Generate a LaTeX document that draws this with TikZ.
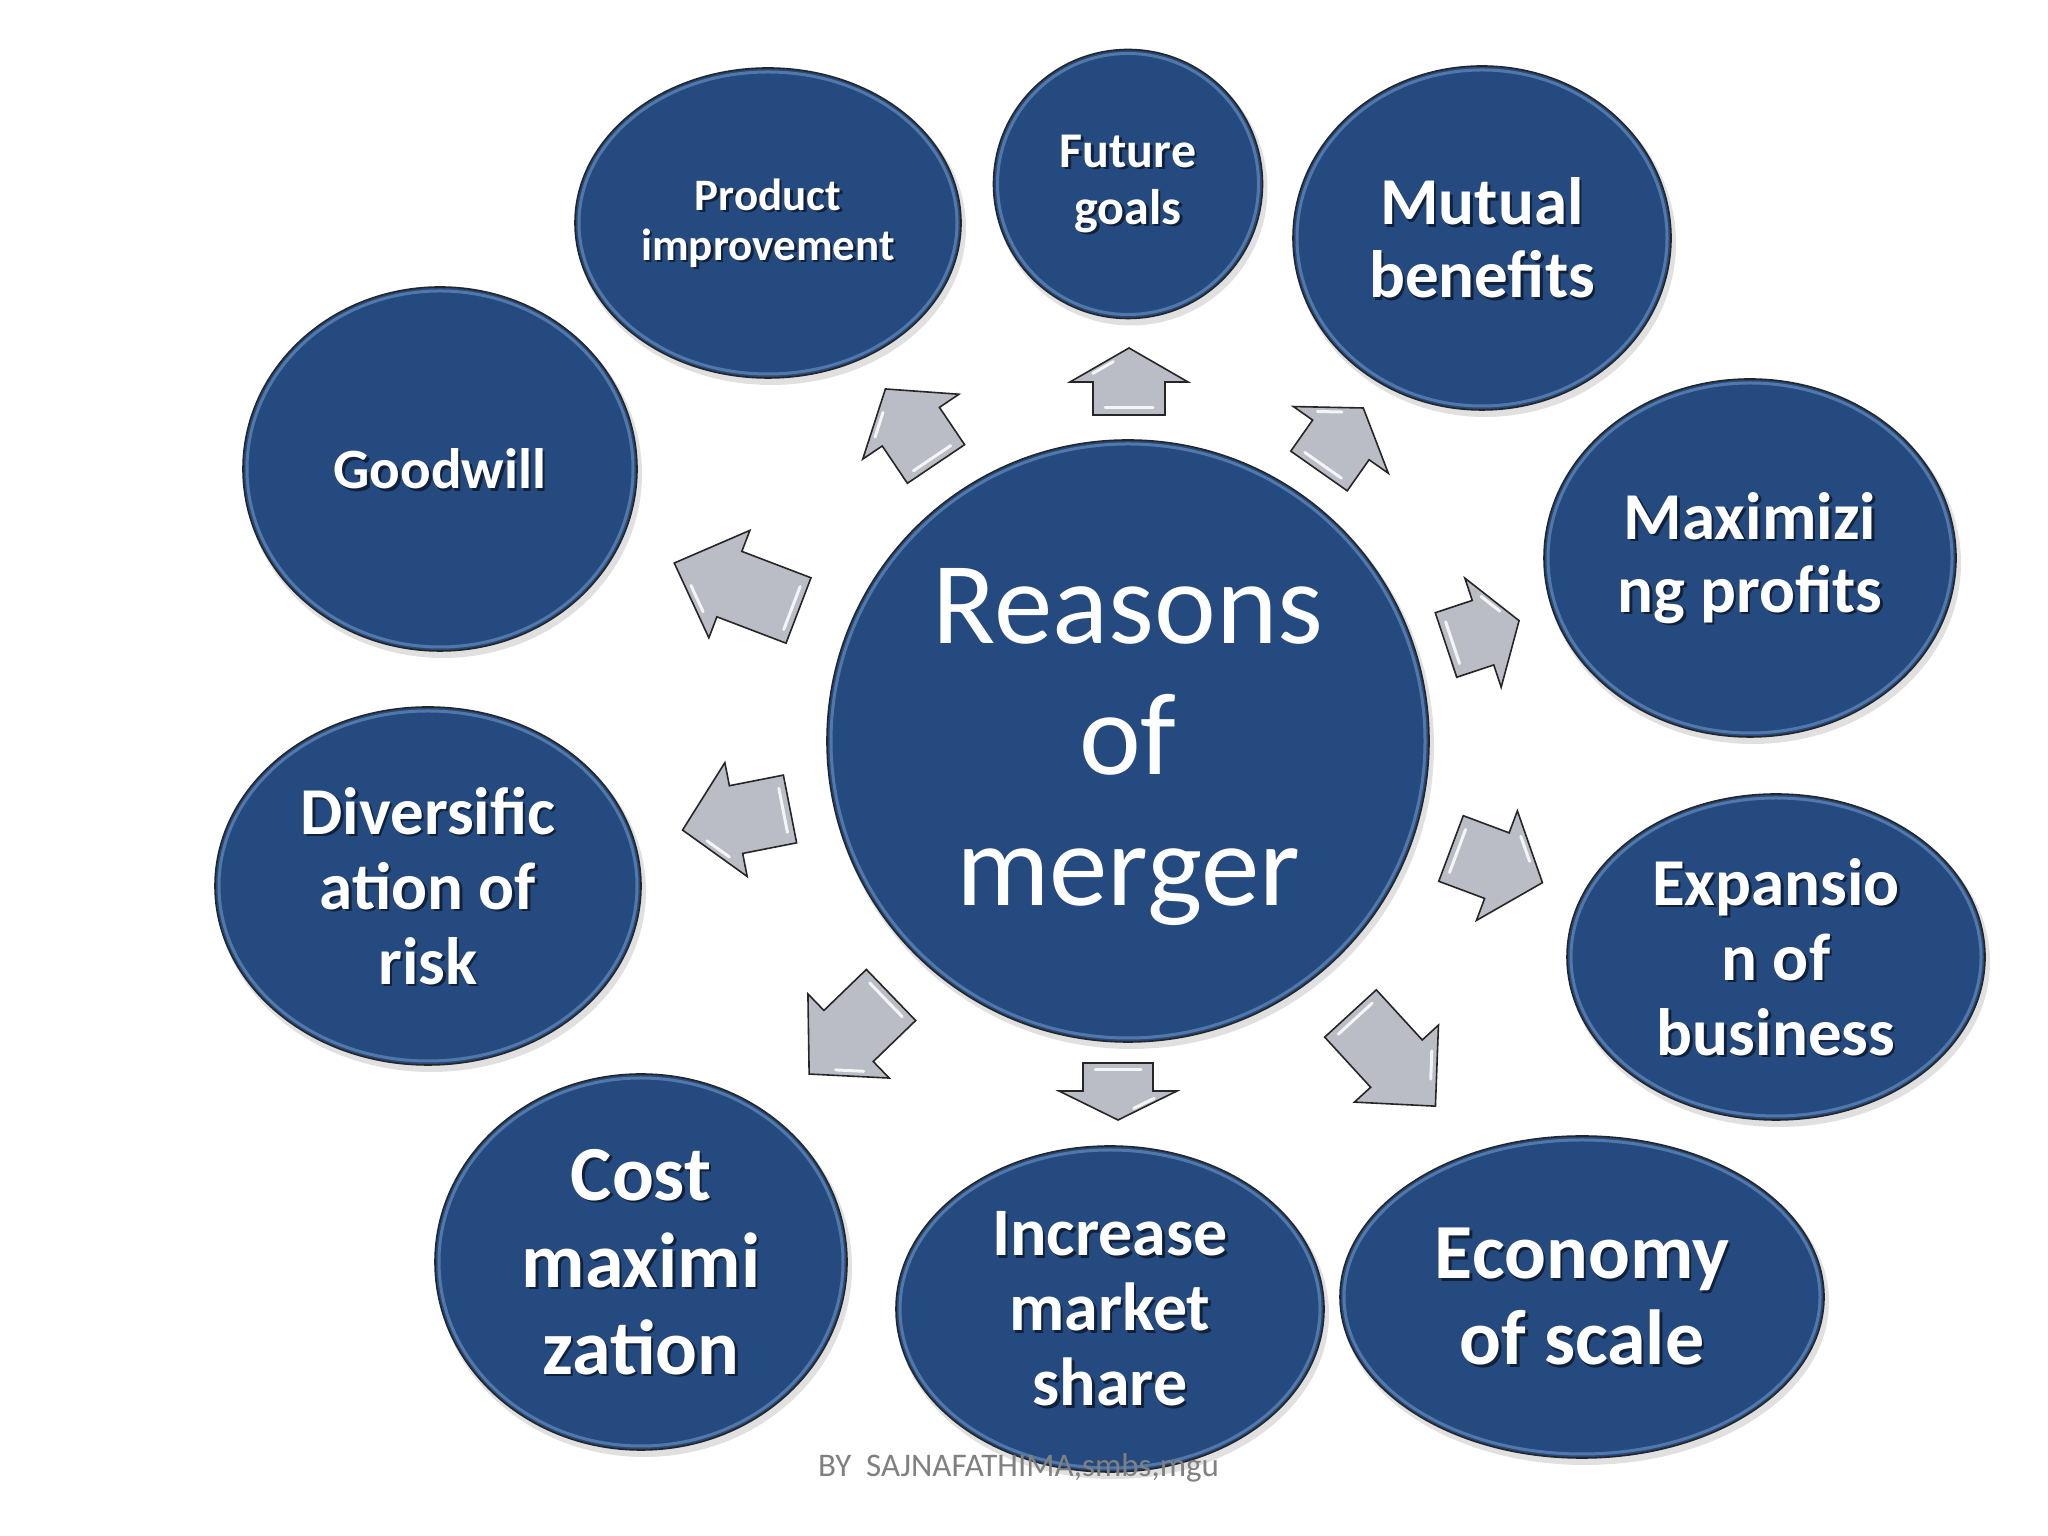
\documentclass[tikz,border=0pt]{standalone}
\usepackage{fontspec}
\setmainfont{Carlito}
\usetikzlibrary{shapes.geometric,calc}
\definecolor{bblue}{RGB}{36,74,128}
\definecolor{rimblue}{RGB}{140,175,220}
\definecolor{agray}{RGB}{186,189,198}
\definecolor{fgray}{RGB}{128,128,128}
\tikzset{
 bubble/.style={ellipse, fill=bblue, draw=black!85, line width=1.6pt, inner sep=0pt},
 bubtxt/.style={text=white, align=center},
 bubshadow/.style={text=black, text opacity=0.55, align=center},
 rim/.style={draw=rimblue, line width=3pt, opacity=0.45},
 blockarr/.style={fill=agray, draw=black!85, line width=1.6pt, line join=miter},
 shine/.style={draw=white, line width=3pt, line cap=round, opacity=0.85},
 softshadow/.style={fill=black, opacity=0.12},
}
\newcommand\bubble[8]{%
 \fill[softshadow] (#2+3,#3-5) ellipse [x radius=#4+2, y radius=#5+2];
 \node[bubble, minimum width=2*#4, minimum height=2*#5] (#1) at (#2,#3) {};
 \draw[rim] (#1.center) ellipse [x radius=#4-4, y radius=#5-4];
 \node[bubshadow, font=\bfseries\fontsize{#6}{#7}\selectfont] at ([shift={(2.5,-2.5)}]#1.center) {#8};
 \node[bubtxt, font=\bfseries\fontsize{#6}{#7}\selectfont] at (#1.center) {#8};
}
\newcommand\barrow[6]{%
 \begin{scope}[shift={(#1)}, rotate=#2]
  \draw[blockarr] (0,-#5/2) -- (#3,-#5/2) -- (#3,-#6/2) -- (#3+#4,0) -- (#3,#6/2) -- (#3,#5/2) -- (0,#5/2) -- cycle;
  \draw[shine] (7,-#5/2+12) -- (7,#5/2-12);
  \draw[shine] (#3+0.25*#4,0.375*#6-8) -- (#3+0.6*#4,0.2*#6-8);
 \end{scope}}
\begin{document}
\begin{tikzpicture}[x=1pt,y=1pt]
\useasboundingbox (0,0) rectangle (2048,1536);
\fill[white] (0,0) rectangle (2048,1536);

% centre
\fill[softshadow] (1131,790) circle (303);
\node[bubble, minimum width=602, minimum height=602] (c) at (1128,795) {};
\draw[rim] (c.center) circle (297);
\node[text=white, align=center, font=\fontsize{117}{131}\selectfont] (ct) at (1128,789) {Reasons\\of\\merger};

% outer bubbles
\bubble{prod}{768}{1313}{193}{155}{45}{50}{Product\\improvement}
\bubble{fut}{1128}{1352}{134.5}{134.5}{50}{57}{Future\\goals}
\bubble{mut}{1482}{1298}{189}{172}{67}{73}{Mutual\\benefits}
\bubble{good}{440}{1067}{197}{182}{57}{65}{Goodwill}
\bubble{maxp}{1750}{978}{206}{179}{67}{73}{Maximizi\\ng profits}
\bubble{div}{428}{650}{213}{179}{67}{75}{Diversific\\ation of\\risk}
\bubble{exp}{1776}{579}{209}{163}{67}{75}{Expansio\\n of\\business}
\bubble{cost}{641}{274}{206}{188}{78}{87}{Cost\\maximi\\zation}
\bubble{inc}{1110}{227}{214}{163}{68}{75}{Increase\\market\\share}
\bubble{eco}{1582}{239}{242}{161}{78}{86}{Economy\\of scale}

% block arrows
\barrow{1129,1121}{90}{33}{34}{72}{118}
\barrow{1319,1065}{54.9}{38}{39}{69}{116}
\barrow{798.5,925.5}{159.1}{74}{59}{70}{115}
\barrow{790,727}{191.1}{55}{54.5}{69}{116}
\barrow{1446,891}{18.4}{39}{38}{68}{115}
\barrow{1451,687.5}{-20.5}{49}{48.6}{70}{117}
\barrow{1350.5,522.5}{-47.5}{68}{57.7}{70}{114}
\barrow{1118,473}{-90}{28}{29}{70}{118}
\barrow{891,541}{224}{59}{54.8}{71}{117}
\barrow{936,1072}{124}{45}{45.5}{69}{116}

% footer
\node[anchor=base west, text=fgray, inner sep=0pt, font=\fontsize{33}{40}\selectfont] (foot) at (818,59) {BY\ \ SAJNAFATHIMA,smbs,mgu};
\end{tikzpicture}
\end{document}
